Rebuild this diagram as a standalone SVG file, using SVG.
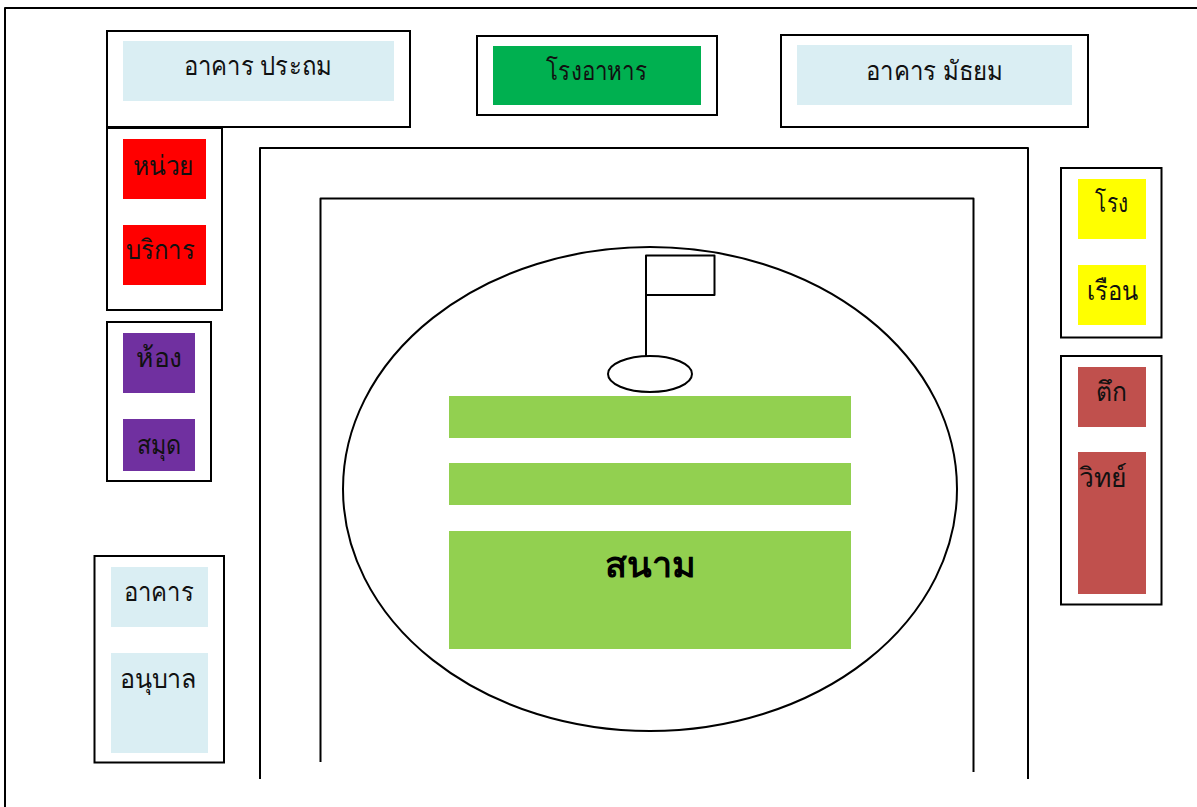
<svg xmlns="http://www.w3.org/2000/svg" width="1197" height="807" viewBox="0 0 1197 807">
<style>
.o{fill:#fff;stroke:#000;stroke-width:2}
.l{fill:none;stroke:#000;stroke-width:2;stroke-linejoin:round}
text{font-family:"Noto Sans","DejaVu Sans","Liberation Sans",sans-serif;font-size:27px;font-weight:300;fill:#111;text-anchor:middle}
.b{fill:#daeef3}.r{fill:#f00}.p{fill:#7030a0}.y{fill:#ff0}.c{fill:#c0504d}.g{fill:#92d050}
</style>
<rect width="1197" height="807" fill="#fff"/>
<path class="l" d="M5 807V8H1197"/>
<g id="connectors">
<path class="l" d="M260 779V148H1028V779"/>
<path class="l" d="M320.500 762V198.500H973.500V772"/>
</g>
<g id="field">
<ellipse class="o" cx="650" cy="489" rx="307" ry="242"/>
<rect class="g" x="449" y="396" width="402" height="42"/>
<rect class="g" x="449" y="463" width="402" height="42"/>
<rect class="g" x="449" y="531" width="402" height="118"/>
<text x="650" y="577" style="font-size:36px;font-weight:700;fill:#000">สนาม</text>
</g>
<g id="flag">
<path class="l" d="M646 356V255.500H714.500V295H646"/>
<ellipse class="o" cx="650" cy="374" rx="42" ry="18"/>
</g>
<g id="primary">
<rect class="o" x="107" y="31" width="303" height="96"/>
<rect class="b" x="123" y="41" width="271" height="60"/>
<text x="258" y="75" textLength="148" lengthAdjust="spacingAndGlyphs">อาคาร ประถม</text>
</g>
<g id="canteen">
<rect class="o" x="477" y="36" width="240" height="79"/>
<rect x="493" y="46" width="208" height="59" fill="#00b050"/>
<text x="596.500" y="80" textLength="101" lengthAdjust="spacingAndGlyphs">โรงอาหาร</text>
</g>
<g id="secondary">
<rect class="o" x="781" y="35" width="307" height="92"/>
<rect class="b" x="797" y="45" width="275" height="60"/>
<text x="934.500" y="80" textLength="137" lengthAdjust="spacingAndGlyphs">อาคาร มัธยม</text>
</g>
<g id="service">
<rect class="o" x="107" y="128" width="115" height="182"/>
<rect class="r" x="123" y="139" width="83" height="60"/>
<rect class="r" x="123" y="225" width="83" height="60"/>
<text x="163.500" y="175" textLength="61" lengthAdjust="spacingAndGlyphs">หน่วย</text>
<text x="160.500" y="259" textLength="69" lengthAdjust="spacingAndGlyphs">บริการ</text>
</g>
<g id="library">
<rect class="o" x="107" y="322" width="104" height="159"/>
<rect class="p" x="123" y="333" width="72" height="60"/>
<rect class="p" x="123" y="419" width="72" height="52"/>
<text x="159" y="367" textLength="46" lengthAdjust="spacingAndGlyphs">ห้อง</text>
<text x="159.500" y="454" textLength="45" lengthAdjust="spacingAndGlyphs">สมุด</text>
</g>
<g id="kindergarten">
<rect class="o" x="94.500" y="556" width="129.500" height="206.500"/>
<rect class="b" x="111" y="567" width="97" height="60"/>
<rect class="b" x="111" y="653" width="97" height="100"/>
<text x="159" y="601" textLength="70" lengthAdjust="spacingAndGlyphs">อาคาร</text>
<text x="158.500" y="688" textLength="77" lengthAdjust="spacingAndGlyphs">อนุบาล</text>
</g>
<g id="workshop">
<rect class="o" x="1061" y="168" width="100.500" height="169.500"/>
<rect class="y" x="1078" y="179" width="68" height="60"/>
<rect class="y" x="1078" y="265" width="68" height="60"/>
<text x="1111.500" y="212" textLength="33" lengthAdjust="spacingAndGlyphs">โรง</text>
<text x="1112.500" y="300" textLength="51" lengthAdjust="spacingAndGlyphs">เรือน</text>
</g>
<g id="science">
<rect class="o" x="1061" y="356" width="100.500" height="248.500"/>
<rect class="c" x="1078" y="367" width="68" height="60"/>
<rect class="c" x="1078" y="452" width="68" height="142"/>
<text x="1111.500" y="401" textLength="31" lengthAdjust="spacingAndGlyphs">ตึก</text>
<text x="1103" y="487" textLength="48" lengthAdjust="spacingAndGlyphs">วิทย์</text>
</g>
</svg>
